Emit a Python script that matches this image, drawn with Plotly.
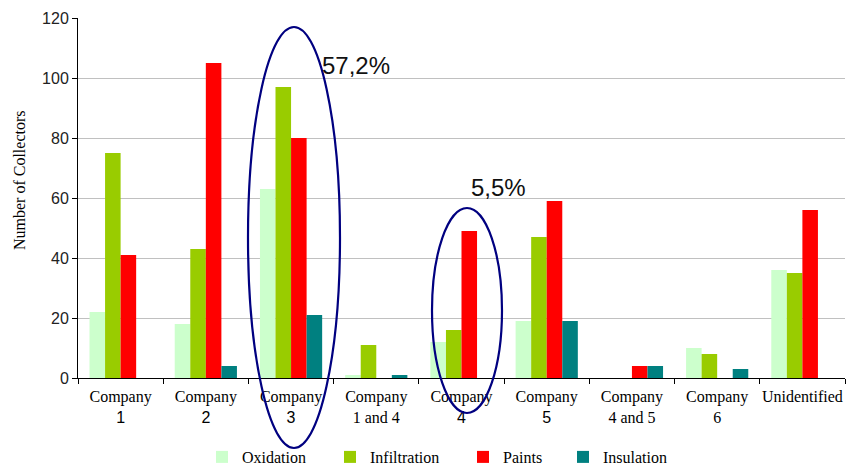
import plotly.graph_objects as go

# Collector counts per company and defect type
categories = ["Company 1", "Company 2", "Company 3", "Company 1 and 4", "Company 4",
              "Company 5", "Company 4 and 5", "Company 6", "Unidentified"]
tick_labels = [
    "Company<br><span style='font-family:Liberation Sans'>1</span>",
    "Company<br><span style='font-family:Liberation Sans'>2</span>",
    "Company<br><span style='font-family:Liberation Sans'>3</span>",
    "Company<br>1 and 4",
    "Company<br><span style='font-family:Liberation Sans'>4</span>",
    "Company<br><span style='font-family:Liberation Sans'>5</span>",
    "Company<br>4 and 5",
    "Company<br>6",
    "Unidentified",
]
oxidation = [22, 18, 63, 1, 12, 19, 0, 10, 36]
infiltration = [75, 43, 97, 11, 16, 47, 0, 8, 35]
paints = [41, 105, 80, 0, 49, 59, 4, 0, 56]
insulation = [0, 4, 21, 1, 0, 19, 4, 3, 0]

series = [
    ("Oxidation", oxidation, "#CCFFCC", "legend"),
    ("Infiltration", infiltration, "#99CC00", "legend2"),
    ("Paints", paints, "#FF0000", "legend3"),
    ("Insulation", insulation, "#008080", "legend4"),
]

SERIF = "Liberation Serif, Times New Roman, serif"
SANS = "Liberation Sans, Arial, sans-serif"

fig = go.Figure()
for name, vals, color, leg in series:
    fig.add_trace(go.Bar(x=categories, y=vals, name=name, marker_color=color,
                         marker_line_width=0, legend=leg))

# Plot area spans 78..845 px horizontally and 18..378 px vertically
L, R, T, B = 78, 2, 18, 90
W, H = 847, 468
pw, ph = W - L - R, H - T - B


def px_x(p):
    return (p - L) / pw


def px_y(p):
    return (H - B - p) / ph


legend_common = dict(orientation="h", yanchor="middle", xanchor="left",
                     font=dict(family=SERIF, size=16, color="#000"),
                     bgcolor="rgba(0,0,0,0)", borderwidth=0)
legend_text_x = [242, 370, 503, 603]
legend_y = px_y(457)

fig.update_layout(
    width=W, height=H,
    margin=dict(l=L, r=R, t=T, b=B, autoexpand=False),
    plot_bgcolor="white", paper_bgcolor="white",
    barmode="group", bargap=0.27, bargroupgap=0,
    showlegend=True,
    legend=dict(x=px_x(legend_text_x[0] - 40), y=legend_y, **legend_common),
    legend2=dict(x=px_x(legend_text_x[1] - 40), y=legend_y, **legend_common),
    legend3=dict(x=px_x(legend_text_x[2] - 40), y=legend_y, **legend_common),
    legend4=dict(x=px_x(legend_text_x[3] - 40), y=legend_y, **legend_common),
    xaxis=dict(
        type="category", tickmode="array", tickvals=categories, ticktext=tick_labels,
        tickson="boundaries", ticks="outside", ticklen=5, tickcolor="#000",
        tickangle=0, automargin=False, ticklabelstandoff=4,
        showline=True, linecolor="#000", linewidth=1, showgrid=False,
        tickfont=dict(family=SERIF, size=16, color="#000"),
    ),
    yaxis=dict(
        range=[0, 120], dtick=20, ticks="outside", ticklen=5, tickcolor="#000",
        automargin=False,
        showline=True, linecolor="#000", linewidth=1,
        showgrid=True, gridcolor="#C0C0C0", gridwidth=1, zeroline=False,
        tickfont=dict(family=SANS, size=16, color="#222"),
    ),
)

# Axis title
fig.add_annotation(text="Number of Collectors", textangle=-90, showarrow=False,
                   xref="paper", yref="paper", x=px_x(20), y=px_y(180),
                   xanchor="center", yanchor="middle",
                   font=dict(family=SERIF, size=16, color="#000"))

# Highlight ellipses with share labels
ellipse_style = dict(type="circle", xref="paper", yref="paper", layer="above",
                     line=dict(color="#000080", width=2.2), fillcolor="rgba(0,0,0,0)")
fig.add_shape(x0=px_x(248), x1=px_x(340), y0=px_y(448), y1=px_y(27), **ellipse_style)
fig.add_shape(x0=px_x(432), x1=px_x(502), y0=px_y(413), y1=px_y(208), **ellipse_style)

fig.add_annotation(text="57,2%", showarrow=False, xref="paper", yref="paper",
                   x=px_x(356), y=px_y(50), font=dict(family=SANS, size=24, color="#111"))
fig.add_annotation(text="5,5%", showarrow=False, xref="paper", yref="paper",
                   x=px_x(498), y=px_y(187), font=dict(family=SANS, size=24, color="#111"))

fig.write_html("out.html")
